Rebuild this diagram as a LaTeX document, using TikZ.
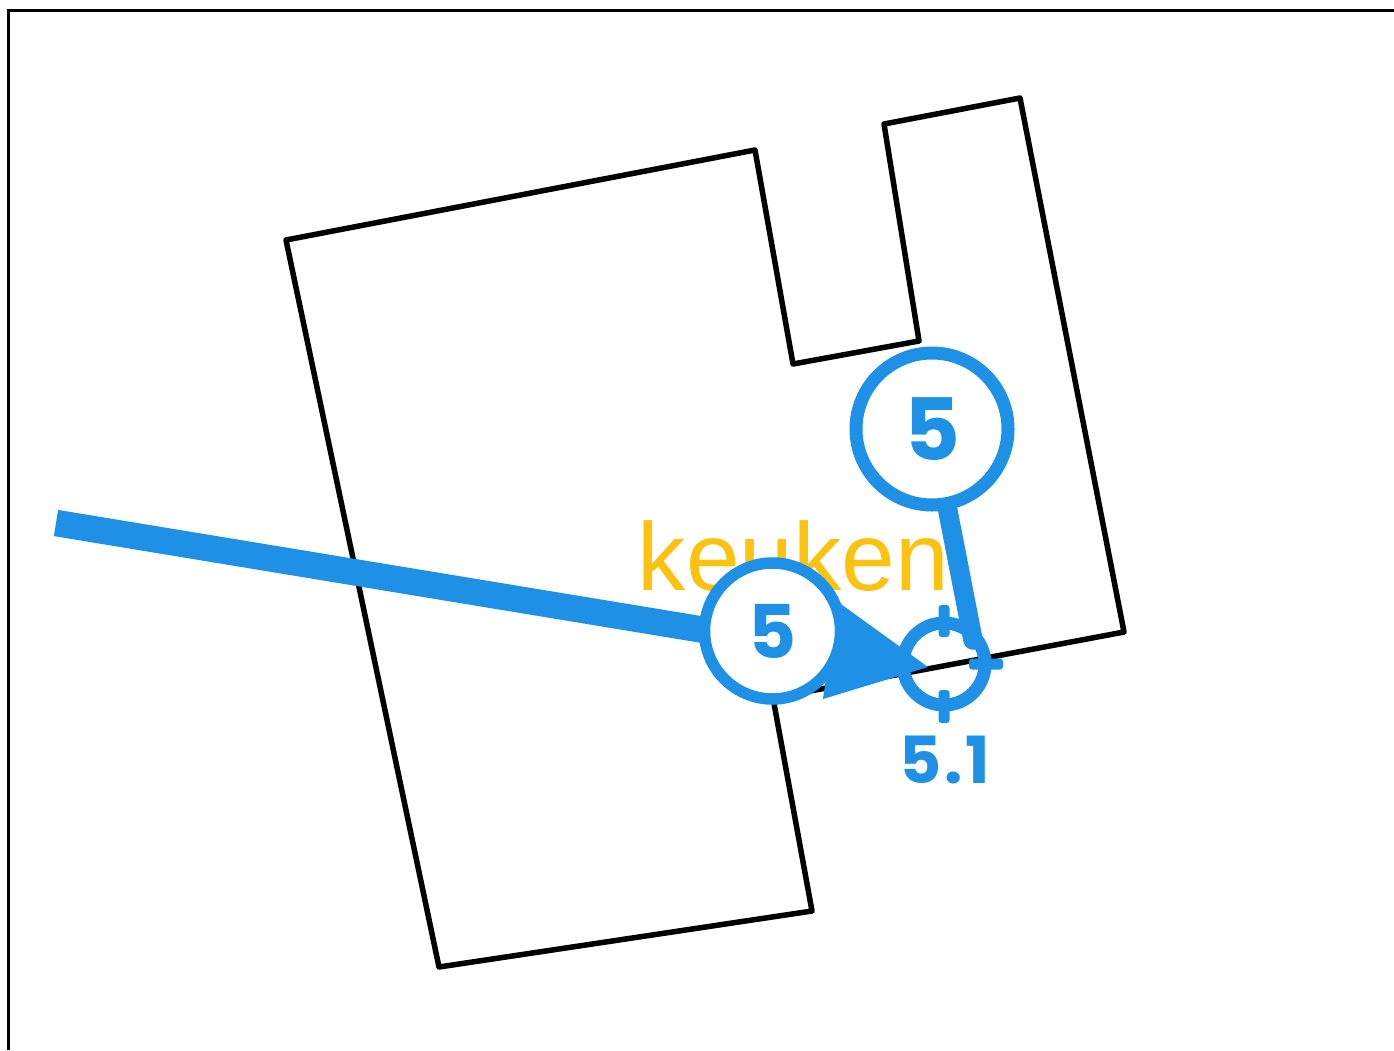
\documentclass[tikz,border=0pt]{standalone}
\usepackage{fontspec}
\setmainfont{Liberation Sans}
\newfontfamily\numfont{Poppins}
\newfontfamily\tipfont[LetterSpace=4]{Poppins}
\definecolor{markblue}{RGB}{30,144,230}
\definecolor{labelyellow}{RGB}{252,194,16}
\pgfdeclarelayer{under}
\pgfsetlayers{under,main}
\tikzset{
  wall/.style={draw=black,line width=5.5pt,line join=round,line cap=round},
  frameline/.style={draw=black,line width=3pt},
  roomlabel/.style={text=labelyellow,font=\fontsize{96.5}{96.5}\selectfont,anchor=base,inner sep=0pt},
  bubble/.style={circle,draw=markblue,fill=white,inner sep=0pt,text=markblue},
  ring/.style={circle,draw=markblue,line width=13pt,inner sep=0pt,minimum size=82pt},
  tick/.style={fill=markblue,rounded corners=3pt},
  shaft/.style={draw=markblue,line width=26.5pt},
  stem/.style={draw=markblue,line width=19.5pt,line cap=round},
  tiplabel/.style={text=markblue,font=\tipfont\bfseries\fontsize{65}{65}\selectfont,anchor=base,inner sep=0pt}
}
\begin{document}
\begin{tikzpicture}[x=1pt,y=-1pt]
\useasboundingbox (0,0) rectangle (1394,1050);
\node[bubble,line width=11.5pt,minimum size=136pt,font=\numfont\bfseries\fontsize{74}{74}\selectfont] (low) at (772.5,631) {5};
\node[bubble,line width=13pt,minimum size=152pt,font=\numfont\bfseries\fontsize{86}{86}\selectfont] (up) at (932,429) {5};
\node[tiplabel] (tiptext) at (945,783) {5.1};
\begin{pgfonlayer}{under}
\draw[frameline] (8.5,1050) -- (8.5,10.5) -- (1394,10.5);
\draw[wall] (286,240) -- (755,150) -- (793,364) -- (919,341) -- (884,124) -- (1020,98) -- (1124,632) -- (773,698) -- (812,911) -- (439,967) -- cycle;
\node[roomlabel] (room) at (793.5,590) {keuken};
\coordinate (start) at (56,523);
\coordinate (shaftend) at (830,650.7);
\coordinate (tip) at (928,667);
\coordinate (stemend) at (973,640);
\node[ring] (target) at (944,664) {};
\draw[shaft] (start) -- (shaftend);
\fill[markblue] (tip) -- (823,699) -- (830,650) -- (838,602) -- cycle;
\path[tick] (938.5,605) rectangle (949.5,637);
\path[tick] (938.5,690) rectangle (949.5,723);
\path[tick] (969,658.5) rectangle (1003,669.5);
\path[tick] (885,658.5) rectangle (918,669.5);
\draw[stem] (up) -- (stemend);
\end{pgfonlayer}
\end{tikzpicture}
\end{document}
